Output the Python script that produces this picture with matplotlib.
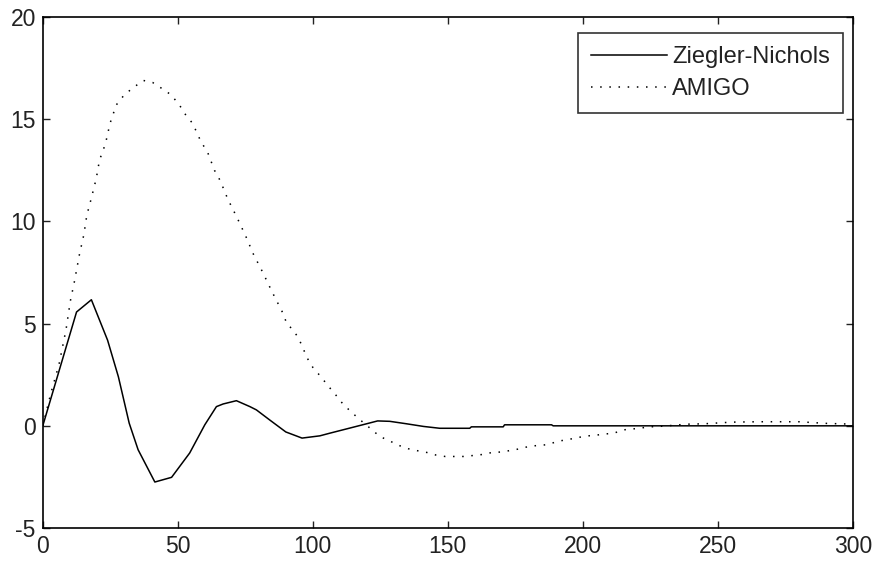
import matplotlib
matplotlib.use('Agg')
import matplotlib.pyplot as plt

plt.rcParams['font.family'] = ['Liberation Sans', 'DejaVu Sans']
plt.rcParams['axes.unicode_minus'] = False

# ---- Ziegler-Nichols response (solid) ----
zn_t = [0, 12.5, 18, 24, 28, 32, 35.3, 41.5, 47.7, 54.4, 60, 64.3, 66.8, 71.7,
        76.7, 79.1, 84, 90, 96, 102.6, 106.3, 113.7, 119.9, 124, 128.5, 134.7,
        141, 147, 158.1, 158.7, 170.5, 171, 188.4, 189, 300]
zn_y = [0, 5.57, 6.17, 4.19, 2.4, 0.13, -1.17, -2.75, -2.52, -1.33, 0.05, 0.94,
        1.07, 1.23, 0.94, 0.78, 0.29, -0.3, -0.6, -0.49, -0.36, -0.11, 0.1, 0.24,
        0.22, 0.1, -0.03, -0.12, -0.12, -0.05, -0.05, 0.05, 0.05, 0.0, 0.0]

# ---- AMIGO response (dotted) ----
amigo_t = [0, 3, 6, 8.6, 10.2, 11.7, 13.6, 15.2, 16.3, 17.9, 19.8, 21, 23.2, 24.9,
           27.2, 30.2, 34, 37.3, 40.7, 44.2, 47.5, 50.6, 53, 55.5, 58.6, 61, 63.6,
           65.7, 68.5, 71.9, 75.1, 78, 81.5, 84.9, 88.6, 90.4, 92.6, 94.7, 98, 100,
           103, 105.7, 108.5, 111.2, 114.7, 118, 121.5, 124.8, 128.3, 131.9, 135.3,
           138.8, 142.1, 145.6, 149, 152.7, 156, 159.5, 163, 166.5, 170, 173.4,
           176.8, 180.2, 183.6, 187, 190.6, 194, 197.4, 200.8, 204.3, 207.9, 211.3,
           214.8, 218.1, 221.8, 225, 228.2, 233, 238.4, 245, 255, 265, 280, 290, 300]
amigo_y = [0, 1.6, 3.0, 4.7, 6.1, 7.05, 8.4, 9.35, 10.3, 11.1, 12.1, 13.0, 13.8, 14.8,
           15.7, 16.2, 16.6, 16.9, 16.8, 16.5, 16.2, 15.7, 15.2, 14.8, 13.9, 13.4,
           12.5, 12.0, 11.1, 10.2, 9.3, 8.4, 7.5, 6.56, 5.6, 5.0, 4.7, 4.3, 3.3, 2.86,
           2.4, 1.95, 1.51, 1.06, 0.62, 0.24, -0.15, -0.52, -0.73, -0.96, -1.12,
           -1.22, -1.3, -1.43, -1.5, -1.5, -1.5, -1.45, -1.4, -1.3, -1.28, -1.2,
           -1.12, -1.0, -0.96, -0.92, -0.76, -0.68, -0.6, -0.5, -0.47, -0.4, -0.37,
           -0.2, -0.16, -0.1, -0.05, -0.03, 0.02, 0.08, 0.1, 0.18, 0.2, 0.2, 0.12, 0.08]

fig = plt.figure(figsize=(8.73, 5.62), dpi=100)
ax = fig.add_axes([0.049, 0.0605, 0.928, 0.909])

ax.plot(zn_t, zn_y, '-', color='black', lw=1.1, label='Ziegler-Nichols')
ax.plot(amigo_t, amigo_y, color='black', lw=1.1, ls=(0, (1, 5)), label='AMIGO')

ax.set_xlim(0, 300)
ax.set_ylim(-5, 20)
ax.set_xticks(range(0, 301, 50))
ax.set_yticks(range(-5, 21, 5))
ax.tick_params(direction='in', length=5, width=1, top=True, right=True,
               labelsize=16.5, pad=5, colors='#222222')
for s in ax.spines.values():
    s.set_linewidth(1.2)

leg = ax.legend(loc='upper right', bbox_to_anchor=(0.9877, 0.9687),
                borderaxespad=0, fontsize=17, handlelength=3.25, frameon=True,
                fancybox=False, edgecolor='black', handletextpad=0.2,
                borderpad=0.55, labelspacing=0.42)
leg.get_frame().set_linewidth(1.2)
for t in leg.get_texts():
    t.set_color('#222222')

fig.savefig('out.png', dpi=100, facecolor='white')
